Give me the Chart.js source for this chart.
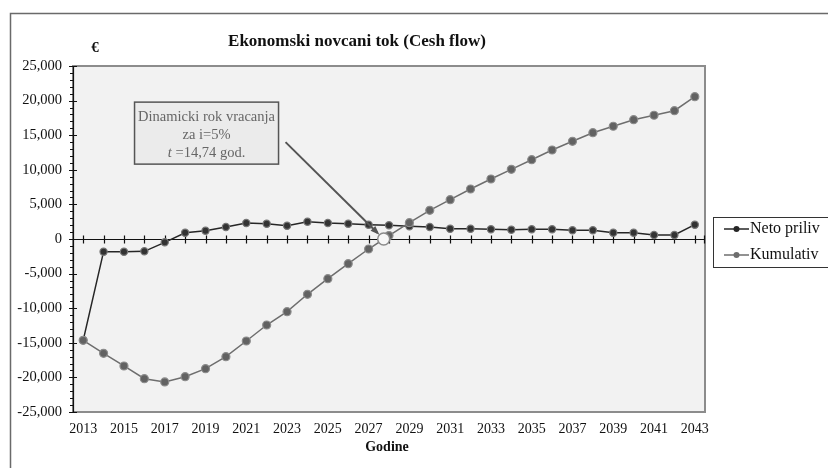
<!DOCTYPE html>
<html lang="hr">
<head>
    <meta charset="UTF-8">
    <title>Ekonomski novcani tok</title>
    <script src="https://cdn.jsdelivr.net/npm/chart.js@4.4.0/dist/chart.umd.min.js"></script>
    <style>
        html, body { margin: 0; padding: 0; background: #fff; }
        #wrap { width: 828px; height: 468px; }
    </style>
</head>
<body>
    <div id="wrap"><canvas id="cf" width="828" height="468"></canvas></div>
    <script>
        // data
        var years = ['2013', '2014', '2015', '2016', '2017', '2018', '2019', '2020', '2021', '2022',
                     '2023', '2024', '2025', '2026', '2027', '2028', '2029', '2030', '2031', '2032',
                     '2033', '2034', '2035', '2036', '2037', '2038', '2039', '2040', '2041', '2042', '2043'];
        var netoPriliv = [-14640, -1835, -1835, -1780, -480, 910, 1200, 1735, 2310, 2210,
                          1920, 2500, 2310, 2210, 2070, 1980, 1835, 1735, 1490, 1490,
                          1400, 1345, 1400, 1400, 1255, 1255, 910, 910, 580, 580, 2070];
        var kumulativ = [-14640, -16520, -18350, -20190, -20660, -19900, -18740, -17000, -14740, -12430,
                         -10500, -7990, -5740, -3570, -1445, 500, 2355, 4150, 5680, 7225,
                         8670, 10070, 11460, 12860, 14120, 15360, 16290, 17240, 17880, 18540, 20560];
        var seriesNames = ['Neto priliv', 'Kumulativ'];
        var yMin = -25000, yMax = 25000, yStep = 5000, yMinor = 1000;
        var paybackYears = 14.74;   // position of the marker, in years after 2013
        var noteLines = ['Dinamicki rok vracanja', 'za i=5%', '=14,74 god.'];
        var noteAnchor = { x: 6.05, y: 15300 };   // centre of the note box, in data units

        var SERIF = '"Liberation Serif", "DejaVu Serif", serif';
        var netoColor = '#262626', kumColor = '#6e6e6e';

        var decor = {
            id: 'decor',
            beforeDraw: function(chart) {
                var c = chart.ctx, a = chart.chartArea;
                c.save();
                c.fillStyle = '#fff';
                c.fillRect(0, 0, chart.width, chart.height);
                // outer frame (only top and left are inside the picture)
                c.strokeStyle = '#6a6a6a';
                c.lineWidth = 1.5;
                c.beginPath();
                c.moveTo(10.5, chart.height);
                c.lineTo(10.5, 13.5);
                c.lineTo(chart.width, 13.5);
                c.stroke();
                // plot area
                c.fillStyle = '#f2f2f2';
                c.fillRect(a.left, a.top, a.right - a.left, a.bottom - a.top);
                c.strokeStyle = '#8c8c8c';
                c.lineWidth = 2;
                c.strokeRect(a.left, a.top, a.right - a.left, a.bottom - a.top);
                c.restore();
            },
            beforeDatasetsDraw: function(chart) {
                var c = chart.ctx, a = chart.chartArea;
                var xs = chart.scales.x, ys = chart.scales.y;
                c.save();
                c.strokeStyle = '#111';
                c.lineWidth = 1.2;
                // y axis line with ticks
                c.beginPath();
                c.moveTo(a.left + 0.5, a.top);
                c.lineTo(a.left + 0.5, a.bottom);
                for (var v = yMin; v <= yMax; v += yMinor) {
                    var py = Math.round(ys.getPixelForValue(v)) + 0.5;
                    if (v % yStep === 0) {
                        c.moveTo(a.left - 4, py);
                        c.lineTo(a.left + 4, py);
                    } else {
                        c.moveTo(a.left - 3, py);
                        c.lineTo(a.left + 0.5, py);
                    }
                }
                // x axis drawn through zero
                var y0 = Math.round(ys.getPixelForValue(0)) + 0.5;
                c.moveTo(a.left, y0);
                c.lineTo(a.right, y0);
                for (var i = 0; i < years.length; i++) {
                    var px = Math.round(xs.getPixelForValue(i)) + 0.5;
                    c.moveTo(px, y0 - 4);
                    c.lineTo(px, y0 + 4);
                }
                c.moveTo(a.right - 0.5, y0 - 4);
                c.lineTo(a.right - 0.5, y0 + 4);
                c.stroke();
                c.restore();
            },
            afterDraw: function(chart) {
                var c = chart.ctx, a = chart.chartArea;
                var xs = chart.scales.x, ys = chart.scales.y;
                c.save();
                // title and unit
                c.fillStyle = '#111';
                c.textAlign = 'center';
                c.textBaseline = 'middle';
                c.font = 'bold 17px ' + SERIF;
                c.fillText('Ekonomski novcani tok (Cesh flow)', 357, 42);
                c.font = 'bold 15px ' + SERIF;
                c.fillText('€', 95, 48);
                c.font = 'bold 14px ' + SERIF;
                c.fillText('Godine', (a.left + a.right) / 2 - 2, 447);

                // payback marker
                var mx = xs.getPixelForValue(paybackYears), my = ys.getPixelForValue(0);

                // note box
                var bx = xs.getPixelForValue(noteAnchor.x), by = ys.getPixelForValue(noteAnchor.y);
                var bw = 144, bh = 62;
                var left = bx - bw / 2, top = by - bh / 2;
                c.fillStyle = '#ebebeb';
                c.fillRect(left, top, bw, bh);
                c.strokeStyle = '#555';
                c.lineWidth = 1.5;
                c.strokeRect(left, top, bw, bh);
                c.fillStyle = '#666';
                c.font = '14.5px ' + SERIF;
                c.textAlign = 'center';
                c.fillText(noteLines[0], bx, top + 15);
                c.fillText(noteLines[1], bx, top + 33);
                c.font = 'italic 14.5px ' + SERIF;
                var tW = c.measureText('t ').width;
                c.font = '14.5px ' + SERIF;
                var restW = c.measureText(noteLines[2]).width;
                var sx = bx - (tW + restW) / 2;
                c.textAlign = 'left';
                c.font = 'italic 14.5px ' + SERIF;
                c.fillText('t ', sx, top + 51);
                c.font = '14.5px ' + SERIF;
                c.fillText(noteLines[2], sx + tW, top + 51);

                // arrow from note to marker
                var ax = left + bw + 7, ay = top + 40;
                var dx = mx - ax, dy = my - ay, len = Math.sqrt(dx * dx + dy * dy);
                var ex = mx - dx / len * 9, ey = my - dy / len * 9;
                c.strokeStyle = '#555';
                c.lineWidth = 2;
                c.beginPath();
                c.moveTo(ax, ay);
                c.lineTo(ex, ey);
                c.stroke();
                var ang = Math.atan2(dy, dx);
                c.fillStyle = '#555';
                c.beginPath();
                c.moveTo(ex + Math.cos(ang) * 3, ey + Math.sin(ang) * 3);
                c.lineTo(ex - Math.cos(ang - 0.5) * 7, ey - Math.sin(ang - 0.5) * 7);
                c.lineTo(ex - Math.cos(ang + 0.5) * 7, ey - Math.sin(ang + 0.5) * 7);
                c.closePath();
                c.fill();

                c.fillStyle = '#f7f7f7';
                c.strokeStyle = '#8a8a8a';
                c.lineWidth = 1.5;
                c.beginPath();
                c.arc(mx, my, 6, 0, Math.PI * 2);
                c.fill();
                c.stroke();

                // legend
                var lx = a.right + 8, ly = 217;
                c.fillStyle = '#fff';
                c.fillRect(lx, ly, chart.width - lx + 2, 50);
                c.strokeStyle = '#333';
                c.lineWidth = 1;
                c.strokeRect(lx + 0.5, ly + 0.5, chart.width - lx + 2, 50);
                var cols = [netoColor, kumColor];
                c.font = '16px ' + SERIF;
                c.textBaseline = 'middle';
                c.textAlign = 'left';
                for (var k = 0; k < seriesNames.length; k++) {
                    var yy = ly + 12 + k * 26;
                    c.strokeStyle = cols[k];
                    c.lineWidth = 1.5;
                    c.beginPath();
                    c.moveTo(lx + 11, yy);
                    c.lineTo(lx + 36, yy);
                    c.stroke();
                    c.fillStyle = cols[k];
                    c.beginPath();
                    c.arc(lx + 23.5, yy, 3, 0, Math.PI * 2);
                    c.fill();
                    c.fillStyle = '#111';
                    c.fillText(seriesNames[k], lx + 37, yy);
                }
                c.restore();
            }
        };

        new Chart(document.getElementById('cf'), {
            type: 'line',
            data: {
                labels: years,
                datasets: [{
                    label: seriesNames[0],
                    data: netoPriliv,
                    borderColor: netoColor,
                    borderWidth: 1.5,
                    pointRadius: 3.6,
                    pointBorderWidth: 1.2,
                    pointBackgroundColor: '#333',
                    pointBorderColor: '#777',
                    tension: 0,
                    order: 1
                }, {
                    label: seriesNames[1],
                    data: kumulativ,
                    borderColor: kumColor,
                    borderWidth: 1.5,
                    pointRadius: 4,
                    pointBorderWidth: 1.2,
                    pointBackgroundColor: '#626262',
                    pointBorderColor: '#8c8c8c',
                    tension: 0,
                    order: 0
                }]
            },
            options: {
                responsive: false,
                animation: false,
                layout: { padding: { top: 66, right: 123, left: 0, bottom: 0 } },
                plugins: {
                    legend: { display: false },
                    title: { display: false },
                    tooltip: { enabled: false }
                },
                scales: {
                    x: {
                        type: 'category',
                        offset: true,
                        grid: { display: false, drawTicks: false },
                        border: { display: false },
                        ticks: {
                            autoSkip: false,
                            maxRotation: 0,
                            padding: 9,
                            color: '#111',
                            font: { family: SERIF, size: 14 },
                            callback: function(v, i) { return i % 2 === 0 ? years[i] : ''; }
                        },
                        afterFit: function(s) { s.height = 56; }
                    },
                    y: {
                        min: yMin,
                        max: yMax,
                        grid: { display: false, drawTicks: false },
                        border: { display: false },
                        ticks: {
                            stepSize: yStep,
                            padding: 11,
                            color: '#111',
                            font: { family: SERIF, size: 14.5 },
                            callback: function(v) { return v.toLocaleString('en-US'); }
                        },
                        afterFit: function(s) { s.width = 73; }
                    }
                }
            },
            plugins: [decor]
        });
    </script>
</body>
</html>
